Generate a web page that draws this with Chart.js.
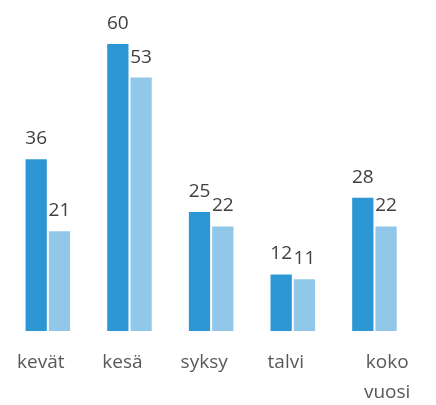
<!DOCTYPE html>
<html>
<head>
<meta charset="utf-8">
<script src="https://cdn.jsdelivr.net/npm/chart.js@4/dist/chart.umd.min.js"></script>
<style>
  html, body { margin: 0; padding: 0; background: #fff; }
  #wrap { width: 436px; height: 405px; }
</style>
</head>
<body>
<div id="wrap"><canvas id="myChart"></canvas></div>
<script>
const categories = ['kevät', 'kesä', 'syksy', 'talvi', ['        koko', '        vuosi']];
const seriesA = [36, 60, 25, 12, 28];
const seriesB = [21, 53, 22, 11, 22];

// value labels above every bar
const valueLabels = {
    id: 'valueLabels',
    afterDatasetsDraw(chart) {
        const ctx = chart.ctx;
        ctx.save();
        ctx.font = '19px "Open Sans", sans-serif';
        ctx.fillStyle = '#404040';
        ctx.textAlign = 'center';
        ctx.textBaseline = 'bottom';
        chart.data.datasets.forEach((ds, i) => {
            chart.getDatasetMeta(i).data.forEach((bar, j) => {
                ctx.fillText(ds.data[j], bar.x, bar.y - 10);
            });
        });
        ctx.restore();
    }
};

const createChart = () => {
    const ctx = document.getElementById('myChart').getContext('2d');
    new Chart(ctx, {
        type: 'bar',
        data: {
            labels: categories,
            datasets: [
                {
                    data: seriesA,
                    backgroundColor: '#2C97D4',
                    borderColor: '#ffffff',
                    borderWidth: 1,
                },
                {
                    data: seriesB,
                    backgroundColor: '#91C7E8',
                    borderColor: '#ffffff',
                    borderWidth: 1,
                },
            ],
        },
        options: {
            responsive: true,
            maintainAspectRatio: false,
            animation: false,
            layout: { padding: { top: 43, left: 7, right: 16, bottom: -19 } },
            plugins: { legend: { display: false }, tooltip: { enabled: false } },
            datasets: { bar: { categoryPercentage: 0.57, barPercentage: 1 } },
            scales: {
                x: {
                    grid: { display: false, drawTicks: false },
                    border: { display: false },
                    ticks: {
                        color: '#595959',
                        font: { family: '"Open Sans", sans-serif', size: 19, lineHeight: 1.55 },
                        padding: 17,
                        labelOffset: -7,
                        maxRotation: 0,
                        autoSkip: false,
                    },
                },
                y: {
                    display: false,
                    min: 0,
                    max: 60,
                },
            },
        },
        plugins: [valueLabels],
    });
};

window.onload = () => {
    createChart();
};
</script>
</body>
</html>
